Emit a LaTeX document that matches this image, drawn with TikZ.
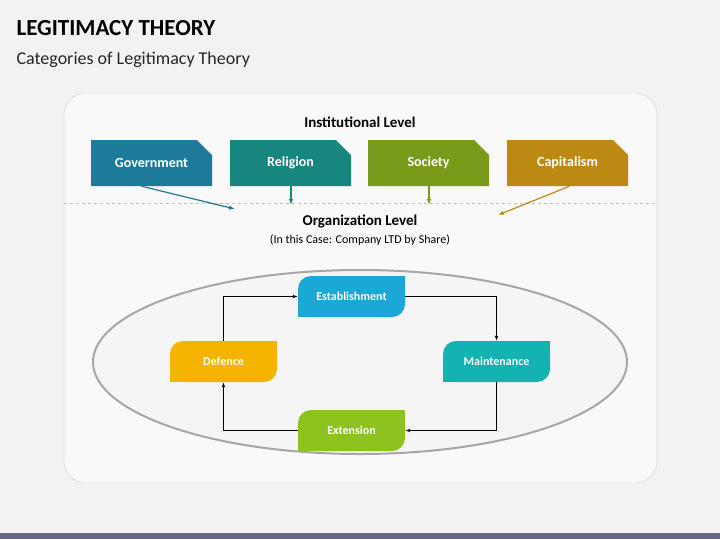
\documentclass[tikz,border=0pt]{standalone}
\usepackage{fontspec}
\setmainfont{Carlito}
\usetikzlibrary{arrows.meta}
\definecolor{cgov}{HTML}{1C7A9A}
\definecolor{crel}{HTML}{16867F}
\definecolor{csoc}{HTML}{7A9A1A}
\definecolor{ccap}{HTML}{BC8A12}
\definecolor{cest}{HTML}{1BA8D6}
\definecolor{cdef}{HTML}{F5B400}
\definecolor{cmai}{HTML}{12B3B0}
\definecolor{cext}{HTML}{8DC21F}
\begin{document}
\begin{tikzpicture}[x=1pt,y=-1pt,
  inst/.style={text=white,font=\bfseries\fontsize{14}{15}\selectfont,minimum width=121pt,minimum height=46pt,inner sep=0pt},
  cyc/.style={text=white,font=\bfseries\fontsize{12}{13}\selectfont,minimum width=107pt,minimum height=41pt,inner sep=0pt},
  conn/.style={black,line width=1.4pt,-{Latex[length=5pt]}},
  iarr/.style={line width=1.2pt,-{Latex[length=6pt]}}]
\fill[gray!10] (0,0) rectangle (720,539);
\fill[black!75!blue!60] (0,533) rectangle (720,539);
\node[anchor=west,font=\bfseries\fontsize{23}{24}\selectfont] (t) at (13,28) {LEGITIMACY THEORY};
\node[anchor=west,font=\fontsize{18}{19}\selectfont,text=black!85] (st) at (13,60) {Categories of Legitimacy Theory};
\draw[gray!25,fill=gray!5,rounded corners=22pt,line width=0.8pt] (64,93) rectangle (657,483);
\node[font=\bfseries\fontsize{15}{16}\selectfont] (il) at (360,122) {Institutional Level};
\foreach \n/\x/\c/\t in {g/91/cgov/Government,r/230/crel/Religion,s/368/csoc/Society,c/507/ccap/Capitalism}{
  \fill[\c] (\x,140) -- (\x+106,140) -- (\x+121,155) -- (\x+121,186) -- (\x,186) -- cycle;
  \node[inst] (\n) at (\x+60.5,163) {\t};
}
\draw[gray!50,dashed,line width=0.8pt] (64,203) -- (657,203);
\coordinate (ga) at (235,209);
\coordinate (ra) at (291,205);
\coordinate (sa) at (429,205);
\coordinate (ca) at (498,215);
\draw[iarr,cgov] ([xshift=-10pt]g.south) -- (ga);
\draw[iarr,crel] (ra|-r.south) -- (ra);
\draw[iarr,csoc] (sa|-s.south) -- (sa);
\draw[iarr,ccap] ([xshift=2pt]c.south) -- (ca);
\node[font=\bfseries\fontsize{15}{16}\selectfont] (ol) at (360,221) {Organization Level};
\node[font=\fontsize{12}{13}\selectfont] (ols) at (360,240) {(In this Case: Company LTD by Share)};
\draw[gray!70,line width=2pt,fill=gray!8] (360,362) ellipse [x radius=267pt,y radius=92pt];
\foreach \n/\x/\y/\c/\t in {e/298/276/cest/Establishment,d/170/341/cdef/Defence,m/443/341/cmai/Maintenance,x/298/410/cext/Extension}{
  \fill[\c,rounded corners=13pt] (\x,\y) rectangle (\x+107,\y+41);
  \fill[\c] (\x+50,\y) rectangle (\x+107,\y+20);
  \fill[\c] (\x,\y+20) rectangle (\x+50,\y+41);
  \node[cyc] (\n) at (\x+53.5,\y+20.5) {\t};
}
\draw[conn] (d.north) |- (e.west);
\draw[conn] (e.east) -| (m.north);
\draw[conn] (m.south) |- (x.east);
\draw[conn] (x.west) -| (d.south);
\end{tikzpicture}
\end{document}
